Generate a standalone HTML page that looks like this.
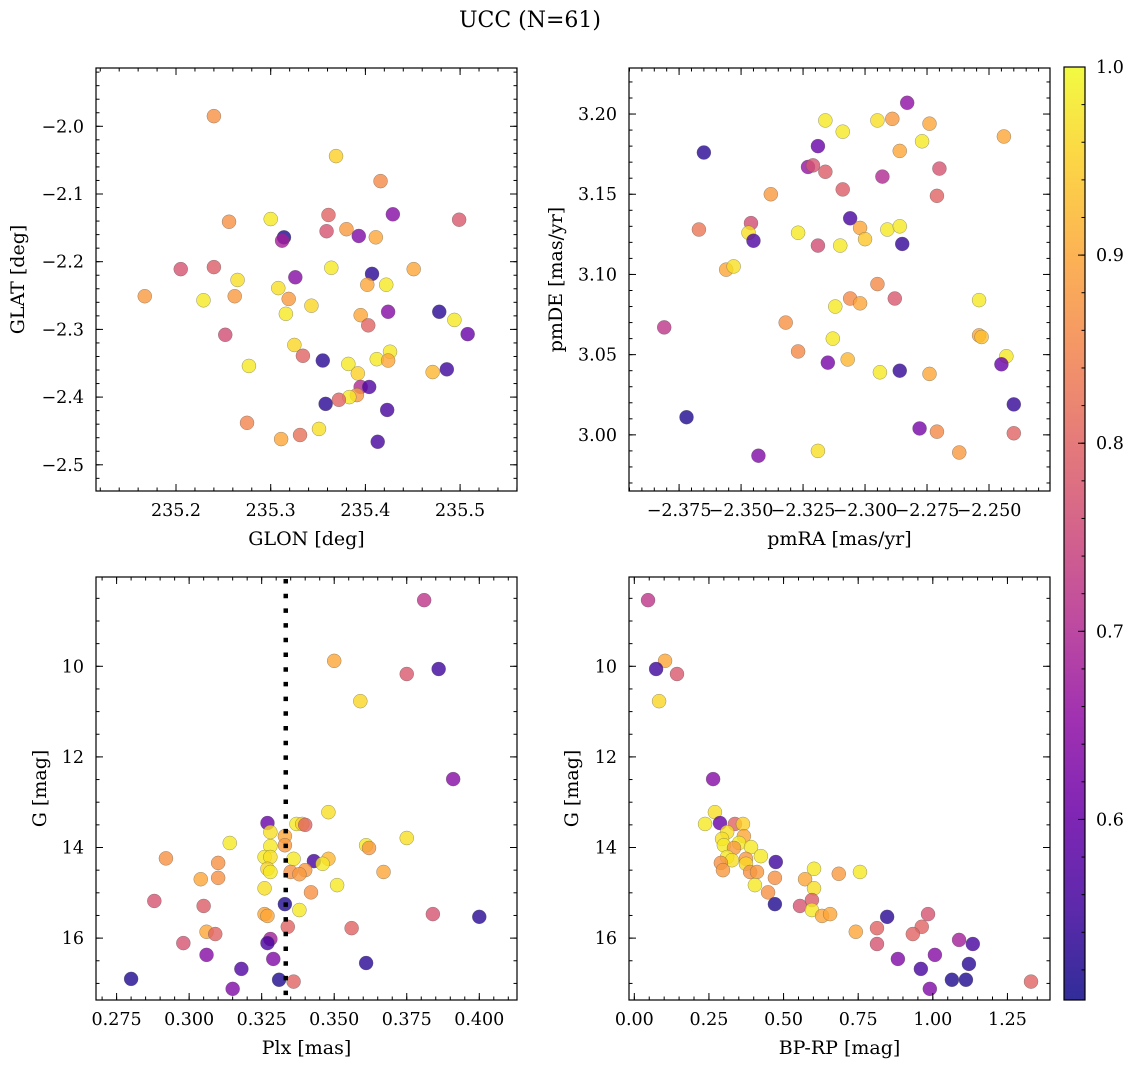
<!DOCTYPE html>
<html><head><meta charset="utf-8"><style>
html,body{margin:0;padding:0;background:#fff;}
svg{display:block;font-family:"DejaVu Serif","Liberation Serif",serif;}
</style></head><body>
<svg id="fig" width="1136" height="1067" viewBox="0 0 1136 1067">
<defs>
<linearGradient id="plasmaGrad" x1="0" y1="1" x2="0" y2="0">
<stop offset="0" stop-color="#0d0887"/><stop offset="0.1" stop-color="#41049d"/><stop offset="0.2" stop-color="#6a00a8"/><stop offset="0.3" stop-color="#8f0da4"/><stop offset="0.4" stop-color="#b12a90"/><stop offset="0.5" stop-color="#cc4778"/><stop offset="0.6" stop-color="#e16462"/><stop offset="0.7" stop-color="#f2844b"/><stop offset="0.8" stop-color="#fca636"/><stop offset="0.9" stop-color="#fcce25"/><stop offset="1" stop-color="#f0f921"/>
</linearGradient>
</defs>
<text x="530" y="27" text-anchor="middle" font-size="22">UCC (N=61)</text>
</svg>
<script>
// ---- data (per panel) ----
const glon=[235.240,235.369,235.416,235.429,235.499,235.256,235.300,235.361,235.359,235.380,235.393,235.411,235.314,235.312,235.205,235.240,235.265,235.364,235.451,235.326,235.407,235.308,235.402,235.422,235.167,235.229,235.262,235.319,235.343,235.316,235.395,235.424,235.478,235.494,235.403,235.508,235.252,235.325,235.334,235.355,235.382,235.412,235.426,235.424,235.277,235.392,235.471,235.486,235.395,235.404,235.391,235.383,235.372,235.358,235.423,235.275,235.351,235.311,235.331,235.413];
const glat=[-1.985,-2.044,-2.081,-2.130,-2.138,-2.141,-2.137,-2.131,-2.155,-2.152,-2.162,-2.164,-2.164,-2.169,-2.211,-2.208,-2.227,-2.209,-2.211,-2.223,-2.218,-2.239,-2.234,-2.234,-2.251,-2.257,-2.251,-2.255,-2.265,-2.277,-2.279,-2.274,-2.274,-2.286,-2.294,-2.307,-2.308,-2.323,-2.339,-2.346,-2.351,-2.344,-2.333,-2.346,-2.354,-2.365,-2.363,-2.359,-2.385,-2.385,-2.397,-2.400,-2.404,-2.410,-2.419,-2.438,-2.447,-2.462,-2.456,-2.466];
const probA=[0.87,0.95,0.86,0.64,0.78,0.87,0.98,0.80,0.77,0.88,0.63,0.90,0.52,0.68,0.77,0.79,0.97,0.98,0.90,0.64,0.53,0.97,0.90,0.98,0.88,0.98,0.88,0.88,0.96,0.98,0.90,0.64,0.53,0.98,0.80,0.60,0.76,0.96,0.80,0.53,0.98,0.98,0.98,0.90,0.98,0.95,0.92,0.55,0.70,0.57,0.88,0.98,0.80,0.53,0.56,0.85,0.97,0.90,0.82,0.56];
const pmra=[-2.283,-2.316,-2.309,-2.295,-2.289,-2.274,-2.244,-2.365,-2.319,-2.277,-2.286,-2.323,-2.321,-2.316,-2.270,-2.293,-2.309,-2.271,-2.338,-2.367,-2.346,-2.347,-2.345,-2.327,-2.319,-2.306,-2.302,-2.300,-2.310,-2.291,-2.286,-2.285,-2.356,-2.353,-2.295,-2.306,-2.302,-2.312,-2.288,-2.254,-2.381,-2.332,-2.313,-2.327,-2.254,-2.253,-2.315,-2.307,-2.294,-2.286,-2.274,-2.243,-2.245,-2.240,-2.372,-2.278,-2.271,-2.240,-2.262,-2.319,-2.343];
const pmde=[3.207,3.196,3.189,3.196,3.197,3.194,3.186,3.176,3.180,3.183,3.177,3.167,3.168,3.164,3.166,3.161,3.153,3.149,3.150,3.128,3.132,3.126,3.121,3.126,3.118,3.135,3.129,3.122,3.118,3.128,3.130,3.119,3.103,3.105,3.094,3.085,3.082,3.080,3.085,3.084,3.067,3.070,3.060,3.052,3.062,3.061,3.045,3.047,3.039,3.040,3.038,3.049,3.044,3.019,3.011,3.004,3.002,3.001,2.989,2.990,2.987];
const probB=[0.65,0.98,0.98,0.97,0.88,0.90,0.90,0.53,0.60,0.98,0.90,0.66,0.77,0.79,0.77,0.70,0.79,0.80,0.88,0.83,0.76,0.97,0.57,0.98,0.76,0.56,0.90,0.94,0.98,0.98,0.98,0.54,0.90,0.97,0.86,0.86,0.90,0.98,0.78,0.98,0.72,0.87,0.98,0.86,0.90,0.93,0.62,0.92,0.98,0.54,0.90,0.98,0.60,0.54,0.52,0.62,0.86,0.80,0.88,0.97,0.63];
const plx=[0.381,0.350,0.375,0.386,0.359,0.391,0.348,0.327,0.337,0.339,0.340,0.328,0.333,0.375,0.314,0.361,0.362,0.328,0.333,0.292,0.326,0.328,0.336,0.343,0.348,0.346,0.310,0.327,0.328,0.340,0.335,0.338,0.367,0.304,0.310,0.351,0.326,0.342,0.288,0.305,0.333,0.338,0.326,0.327,0.384,0.400,0.334,0.356,0.306,0.309,0.298,0.328,0.327,0.306,0.329,0.361,0.318,0.280,0.331,0.336,0.315];
const gmagC=[8.54,9.88,10.17,10.06,10.77,12.49,13.22,13.46,13.48,13.48,13.50,13.66,13.75,13.79,13.90,13.95,14.01,13.97,13.95,14.24,14.21,14.21,14.25,14.30,14.25,14.36,14.34,14.47,14.54,14.50,14.54,14.59,14.54,14.70,14.67,14.83,14.90,14.99,15.18,15.29,15.25,15.38,15.47,15.51,15.47,15.53,15.75,15.78,15.86,15.91,16.11,16.02,16.11,16.37,16.46,16.55,16.68,16.90,16.92,16.96,17.12];
const probC=[0.72,0.90,0.78,0.55,0.96,0.64,0.97,0.60,0.98,0.95,0.80,0.97,0.90,0.97,0.98,0.98,0.88,0.98,0.88,0.87,0.98,0.97,0.98,0.56,0.92,0.98,0.87,0.96,0.98,0.88,0.87,0.88,0.90,0.90,0.87,0.98,0.97,0.87,0.77,0.79,0.52,0.98,0.90,0.90,0.77,0.53,0.80,0.80,0.90,0.80,0.77,0.68,0.56,0.64,0.63,0.53,0.57,0.52,0.52,0.80,0.63];
const bprp=[0.046,0.103,0.073,0.143,0.083,0.264,0.270,0.237,0.287,0.337,0.364,0.311,0.367,0.294,0.300,0.351,0.391,0.334,0.424,0.374,0.311,0.327,0.474,0.290,0.374,0.297,0.388,0.411,0.602,0.572,0.471,0.685,0.756,0.404,0.602,0.448,0.471,0.555,0.595,0.595,0.629,0.656,0.847,0.984,0.742,0.813,0.963,0.933,0.813,1.088,1.134,0.883,1.007,0.960,1.121,1.064,1.111,0.990,1.329];
const gmagD=[8.54,9.88,10.06,10.17,10.77,12.49,13.22,13.48,13.46,13.48,13.48,13.66,13.75,13.81,13.95,13.90,13.99,14.01,14.19,14.25,14.21,14.28,14.32,14.34,14.36,14.50,14.54,14.54,14.47,14.70,14.67,14.58,14.54,14.83,14.90,14.99,15.25,15.29,15.16,15.38,15.51,15.47,15.53,15.47,15.86,15.78,15.75,15.91,16.13,16.04,16.13,16.46,16.37,16.68,16.57,16.92,16.92,17.12,16.96];
const probD=[0.72,0.90,0.55,0.78,0.96,0.64,0.97,0.98,0.60,0.80,0.95,0.97,0.90,0.97,0.98,0.98,0.98,0.88,0.98,0.88,0.98,0.97,0.55,0.87,0.96,0.88,0.87,0.88,0.98,0.90,0.87,0.88,0.98,0.98,0.97,0.87,0.52,0.77,0.79,0.98,0.90,0.90,0.53,0.77,0.90,0.80,0.80,0.80,0.77,0.68,0.56,0.63,0.64,0.56,0.53,0.52,0.52,0.63,0.80];
const plxRef=[0.3333];
const cbTicks=[0.6,0.7,0.8,0.9,1.0];
const cbRange=[0.504,1.0];

// ---- drawing ----
const NS="http://www.w3.org/2000/svg";
const svg=document.getElementById('fig');
const TICKFS=17.5, LABFS=19;
function el(tag,attrs,parent){const e=document.createElementNS(NS,tag);for(const k in attrs)e.setAttribute(k,attrs[k]);(parent||svg).appendChild(e);return e;}
const stops=[[13,8,135],[65,4,157],[106,0,168],[143,13,164],[177,42,144],[204,71,120],[225,100,98],[242,132,75],[252,166,54],[252,206,37],[240,249,33]];
function plasma(v){let t=(v-cbRange[0])/(cbRange[1]-cbRange[0]);t=Math.max(0,Math.min(1,t))*10;const i=Math.min(9,Math.floor(t)),f=t-i;const a=stops[i],b=stops[i+1];return 'rgb('+a.map((c,k)=>Math.round(c+(b[k]-c)*f)).join(',')+')';}
function fmt(v,d){const s=Math.abs(v).toFixed(d);return (v<-1e-9?'\u2212':'')+s;}

function panel(cfg){
  const {x0,y0,w,h,xd,yd,name}=cfg;
  const sx=v=>x0+(v-xd[0])/(xd[1]-xd[0])*w;
  const sy=v=>y0+h-(v-yd[0])/(yd[1]-yd[0])*h;
  const g=el('g',{});
  
  
  const pg=el('g',{},g);
  
  
  cfg.xs.forEach((xv,i)=>{
    const c=el('circle',{cx:sx(xv),cy:sy(cfg.ys[i]),r:7,fill:plasma(cfg.cs[i]),'fill-opacity':0.8,stroke:'#555','stroke-width':0.5,'stroke-opacity':0.6},pg);
    
    
  });
  if(cfg.extra)cfg.extra(g,sx,sy);
  const tg=el('g',{stroke:'#000','stroke-width':1},g);
  
  
  function ticks(dom,step){const out=[];const lo=Math.min(dom[0],dom[1]),hi=Math.max(dom[0],dom[1]);let v=Math.ceil(lo/step-1e-6)*step;for(;v<=hi+1e-9;v+=step)out.push(+v.toFixed(6));return out;}
  ticks(xd,cfg.xminor).forEach(v=>{const X=sx(v);el('line',{x1:X,x2:X,y1:y0+h,y2:y0+h-3.5},tg);el('line',{x1:X,x2:X,y1:y0,y2:y0+3.5},tg);});
  ticks(yd,cfg.yminor).forEach(v=>{const Y=sy(v);el('line',{x1:x0,x2:x0+3.5,y1:Y,y2:Y},tg);el('line',{x1:x0+w,x2:x0+w-3.5,y1:Y,y2:Y},tg);});
  ticks(xd,cfg.xmajor).forEach(v=>{const X=sx(v);el('line',{x1:X,x2:X,y1:y0+h,y2:y0+h-7},tg);el('line',{x1:X,x2:X,y1:y0,y2:y0+7},tg);
    const t=el('text',{x:X,y:y0+h+25,'text-anchor':'middle','font-size':TICKFS,stroke:'none'},g);t.textContent=fmt(v,cfg.xdec);
    
    });
  ticks(yd,cfg.ymajor).forEach(v=>{const Y=sy(v);el('line',{x1:x0,x2:x0+7,y1:Y,y2:Y},tg);el('line',{x1:x0+w,x2:x0+w-7,y1:Y,y2:Y},tg);
    const t=el('text',{x:x0-12,y:Y+6,'text-anchor':'end','font-size':TICKFS},g);t.textContent=fmt(v,cfg.ydec);
    
    });
  const fr=el('rect',{x:x0,y:y0,width:w,height:h,fill:'none',stroke:'#000','stroke-width':1.2},g);
  
  
  const xl=el('text',{x:x0+w/2,y:y0+h+54,'text-anchor':'middle','font-size':LABFS},g);xl.textContent=cfg.xlabel;
  
  
  const yl=el('text',{x:cfg.ylx,y:y0+h/2,'text-anchor':'middle','font-size':LABFS,transform:'rotate(-90 '+cfg.ylx+' '+(y0+h/2)+')'},g);yl.textContent=cfg.ylabel;
  
  
}

panel({name:'glon-glat-panel',x0:96,y0:68,w:421,h:423,xd:[235.1155,235.5601],yd:[-2.5387,-1.9139],xs:glon,ys:glat,cs:probA,xmajor:0.1,xminor:0.02,ymajor:0.1,yminor:0.02,xdec:1,ydec:1,xlabel:'GLON [deg]',ylabel:'GLAT [deg]',ylx:24});
panel({name:'pm-panel',x0:629,y0:68,w:421,h:423,xd:[-2.3952,-2.2254],yd:[2.965,3.2287],xs:pmra,ys:pmde,cs:probB,xmajor:0.025,xminor:0.005,ymajor:0.05,yminor:0.01,xdec:3,ydec:2,xlabel:'pmRA [mas/yr]',ylabel:'pmDE [mas/yr]',ylx:562});
panel({name:'plx-g-panel',x0:96,y0:577,w:421,h:423,xd:[0.2679,0.4130],yd:[17.366,8.029],xs:plx,ys:gmagC,cs:probC,xmajor:0.025,xminor:0.005,ymajor:2,yminor:0.5,xdec:3,ydec:0,xlabel:'Plx [mas]',ylabel:'G [mag]',ylx:46,
  extra:(g,sx,sy)=>{plxRef.forEach(v=>{const l=el('line',{x1:sx(v),x2:sx(v),y1:577,y2:1000,stroke:'#000','stroke-width':4.5,'stroke-dasharray':'4.5 10.2','stroke-dashoffset':-2},g);
    
    });}});
panel({name:'cmd-panel',x0:629,y0:577,w:421,h:423,xd:[-0.0178,1.3926],yd:[17.366,8.029],xs:bprp,ys:gmagD,cs:probD,xmajor:0.25,xminor:0.05,ymajor:2,yminor:0.5,xdec:2,ydec:0,xlabel:'BP-RP [mag]',ylabel:'G [mag]',ylx:578});

// colorbar
(function(){
  const x0=1064,y0=67,w=21,h=933;
  const cg=el('g',{});
  
  
  el('rect',{x:x0,y:y0,width:w,height:h,fill:'url(#plasmaGrad)','fill-opacity':0.85},cg);
  const sy=v=>y0+h-(v-cbRange[0])/(cbRange[1]-cbRange[0])*h;
  for(let v=0.52;v<=1.0001;v+=0.02){const Y=sy(v);el('line',{x1:x0+w,x2:x0+w-3.5,y1:Y,y2:Y,stroke:'#000','stroke-width':1},cg);}
  cbTicks.forEach(v=>{const Y=sy(v);el('line',{x1:x0+w,x2:x0+w-7,y1:Y,y2:Y,stroke:'#000','stroke-width':1},cg);
    const t=el('text',{x:x0+w+11,y:Y+6,'font-size':TICKFS},cg);t.textContent=v.toFixed(1);
    
    });
  el('rect',{x:x0,y:y0,width:w,height:h,fill:'none',stroke:'#000','stroke-width':1.2},cg);
})();
</script>
</body></html>
